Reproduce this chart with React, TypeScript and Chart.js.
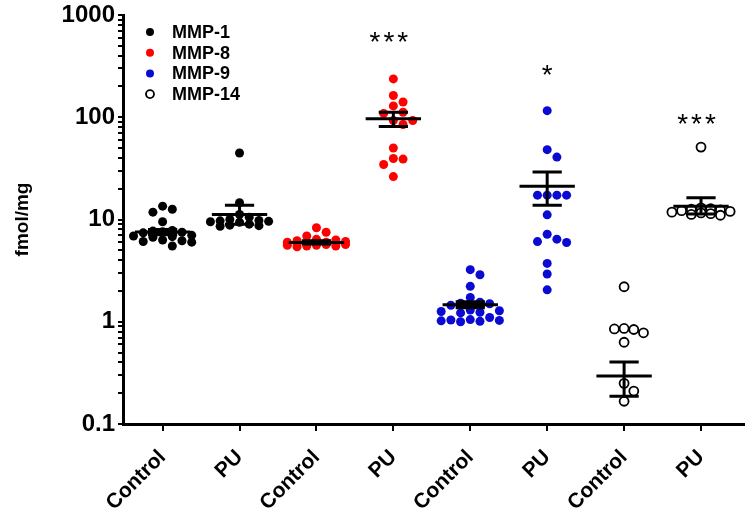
import React, { useEffect, useRef } from 'react';
import { Chart, registerables } from 'chart.js';

Chart.register(...registerables);

// ---------- data ----------
const categories = ['Control', 'PU', 'Control', 'PU', 'Control', 'PU', 'Control', 'PU'];
const seriesNames = ['MMP-1', 'MMP-8', 'MMP-9', 'MMP-14'];

const mmp1Control = [13.5, 12.6, 11.8, 9.5, 7.8, 7.7, 7.6, 7.5, 7.4, 7.0, 6.9, 6.8, 6.7, 6.3, 6.2, 6.1, 6.0, 5.5];
const mmp1PU = [44.7, 14.6, 11.2, 10.5, 10.0, 9.8, 9.7, 9.6, 9.5, 9.4, 9.0, 8.8, 8.7, 8.6];
const mmp8Control = [8.3, 7.5, 6.9, 6.4, 6.3, 6.2, 6.1, 6.0, 6.0, 5.9, 5.9, 5.8, 5.8, 5.7, 5.7, 5.6, 5.6, 5.5, 5.5, 5.4];
const mmp8PU = [237, 163, 141, 129, 112, 109, 93, 93, 85, 50, 39.5, 39, 34.5, 26.3];
const mmp9Control = [3.23, 2.88, 2.22, 1.73, 1.55, 1.52, 1.5, 1.45, 1.3, 1.28, 1.26, 1.24, 1.22, 1.1, 1.05, 1.04, 1.03, 1.02, 1.01, 1.0];
const mmp9PU = [116, 48.2, 40.8, 17.3, 17.3, 17.3, 17.3, 11.1, 7.18, 6.42, 6.08, 5.95, 3.72, 2.93, 2.05];
const mmp14Control = [2.2, 0.86, 0.84, 0.85, 0.78, 0.63, 0.25, 0.21, 0.167];
const mmp14PU = [51.1, 13.0, 12.8, 12.6, 12.4, 12.2, 12.0, 11.8, 11.6, 11.4, 11.2, 11.0];

const groupMeans = [7.55, 11.2, 5.95, 96.6, 1.47, 21.2, 0.295, 13.5];
const groupSemUpper = [8.0, 13.8, 6.2, 112, 1.57, 29.2, 0.404, 16.3];
const groupSemLower = [7.1, 9.0, 5.75, 81.3, 1.37, 13.8, 0.187, 11.3];

const significance = ['', '', '', '***', '', '*', '', '***'];
const significanceAt = [0, 0, 0, 610, 0, 290, 0, 96];

const yTickLabels = ['0.1', '1', '10', '100', '1000'];

const seriesColors = ['#000000', '#ff0000', '#0a0ad2', '#000000'];
const seriesFill = ['#000000', '#ff0000', '#0a0ad2', '#ffffff'];

// ---------- helpers ----------
const FONT = '"Liberation Sans", Arial, sans-serif';
const PX_PER_X = 77.7;
const PX_PER_DECADE = 102.75;

function swarm(values: number[], center: number) {
  const step = 9.8 / PX_PER_X;
  const minDist = 9.4;
  const ks = [0, 1, -1, 2, -2, 3, -3];
  const placed: { x: number; y: number }[] = [];
  const out: { x: number; y: number }[] = [];
  values.forEach((v) => {
    const ly = Math.log10(v);
    let best = 0;
    let bestD = -1;
    for (const k of ks) {
      const off = k * step;
      let dMin = Infinity;
      placed.forEach((p) => {
        const dx = (p.x - off) * PX_PER_X;
        const dy = (p.y - ly) * PX_PER_DECADE;
        dMin = Math.min(dMin, Math.sqrt(dx * dx + dy * dy));
      });
      if (dMin >= minDist) {
        best = off;
        bestD = Infinity;
        break;
      }
      if (dMin > bestD) {
        bestD = dMin;
        best = off;
      }
    }
    placed.push({ x: best, y: ly });
    out.push({ x: center + best, y: v });
  });
  return out;
}

const meanSemPlugin = {
  id: 'meanSem',
  afterDatasetsDraw(chart: any) {
    const { ctx, scales } = chart;
    const xs = scales.x;
    const ys = scales.y;
    ctx.save();
    ctx.strokeStyle = '#000';
    ctx.lineWidth = 3;
    const unit = xs.getPixelForValue(1) - xs.getPixelForValue(0);
    groupMeans.forEach((m, i) => {
      const xm = xs.getPixelForValue(i);
      const ym = ys.getPixelForValue(m);
      const yu = ys.getPixelForValue(groupSemUpper[i]);
      const yl = ys.getPixelForValue(groupSemLower[i]);
      const halfMean = 0.36 * unit;
      const halfSem = 0.19 * unit;
      ctx.beginPath();
      ctx.moveTo(xm - halfMean, ym);
      ctx.lineTo(xm + halfMean, ym);
      ctx.moveTo(xm - halfSem, yu);
      ctx.lineTo(xm + halfSem, yu);
      ctx.moveTo(xm - halfSem, yl);
      ctx.lineTo(xm + halfSem, yl);
      ctx.moveTo(xm, yu);
      ctx.lineTo(xm, yl);
      ctx.stroke();
    });
    ctx.restore();
  },
};

const annotatePlugin = {
  id: 'annotate',
  afterDraw(chart: any) {
    const { ctx, scales, chartArea } = chart;
    const xs = scales.x;
    const ys = scales.y;
    ctx.save();
    // significance stars
    ctx.fillStyle = '#000';
    ctx.font = `28px ${FONT}`;
    (ctx as any).letterSpacing = '3px';
    ctx.textAlign = 'center';
    ctx.textBaseline = 'alphabetic';
    significance.forEach((s, i) => {
      if (!s) return;
      const m = ctx.measureText('*');
      const shift = (m.actualBoundingBoxAscent - m.actualBoundingBoxDescent) / 2;
      const dx = s.length > 1 ? -3 : 1.5;
      ctx.fillText(s, xs.getPixelForValue(i) + dx, ys.getPixelForValue(significanceAt[i]) + shift);
    });
    (ctx as any).letterSpacing = '0px';
    // legend
    ctx.font = `bold 18px ${FONT}`;
    ctx.textAlign = 'left';
    ctx.textBaseline = 'middle';
    chart.data.datasets.forEach((ds: any, k: number) => {
      const y = chartArea.top + 17 + k * 20.7;
      const x = chartArea.left + 27;
      ctx.beginPath();
      ctx.arc(x, y, 4, 0, Math.PI * 2);
      ctx.fillStyle = ds.backgroundColor;
      ctx.fill();
      if (ds.borderWidth > 0) {
        ctx.lineWidth = ds.borderWidth;
        ctx.strokeStyle = ds.borderColor;
        ctx.stroke();
      }
      ctx.fillStyle = '#000';
      ctx.fillText(ds.label, chartArea.left + 49, y + 1);
    });
    ctx.restore();
  },
};

export default function App() {
  const ref = useRef<HTMLCanvasElement>(null);
  useEffect(() => {
    document.body.style.margin = '0';
    const pairs = [
      [mmp1Control, mmp1PU],
      [mmp8Control, mmp8PU],
      [mmp9Control, mmp9PU],
      [mmp14Control, mmp14PU],
    ];
    const datasets = pairs.map((p, k) => ({
      label: seriesNames[k],
      data: [...swarm(p[0], 2 * k), ...swarm(p[1], 2 * k + 1)],
      backgroundColor: seriesFill[k],
      borderColor: seriesColors[k],
      borderWidth: k === 3 ? 1.8 : 0,
      pointRadius: 4.5,
      pointHoverRadius: 4.5,
    }));
    const yTicks: number[] = [];
    for (let e = -1; e <= 2; e++) {
      for (let m = 1; m <= 9; m++) yTicks.push(m * Math.pow(10, e));
    }
    yTicks.push(1000);

    const chart = new Chart(ref.current as HTMLCanvasElement, {
      type: 'scatter',
      data: { datasets },
      plugins: [meanSemPlugin, annotatePlugin],
      options: {
        responsive: false,
        animation: false,
        layout: { padding: { top: 1, right: 0, left: 0, bottom: 0 } },
        plugins: { legend: { display: false }, tooltip: { enabled: false } },
        scales: {
          x: {
            type: 'linear',
            min: -0.515,
            max: 7.555,
            afterBuildTicks: (s: any) => {
              s.ticks = categories.map((_, i) => ({ value: i }));
            },
            afterFit: (s: any) => {
              s.height = 90;
            },
            ticks: {
              autoSkip: false,
              minRotation: 45,
              maxRotation: 45,
              padding: 14,
              color: '#000',
              font: { family: FONT, size: 21, weight: 'bold' },
              callback: (_v: any, i: number) => categories[i],
            },
            grid: { display: true, drawOnChartArea: false, drawTicks: true, tickLength: 7, color: '#000', lineWidth: 2 },
            border: { display: true, color: '#000', width: 3 },
          },
          y: {
            type: 'logarithmic',
            min: 0.1,
            max: 1000,
            afterBuildTicks: (s: any) => {
              s.ticks = yTicks.map((v) => ({ value: v }));
            },
            afterFit: (s: any) => {
              s.width = 123;
            },
            title: {
              display: true,
              text: 'fmol/mg',
              color: '#000',
              font: { family: FONT, size: 19, weight: 'bold' },
              padding: { top: 11, bottom: 0 },
            },
            ticks: {
              autoSkip: false,
              padding: 3,
              color: '#000',
              font: { family: FONT, size: 24, weight: 'bold', lineHeight: 1.0 },
              callback: (v: any) => {
                const lg = Math.log10(Number(v));
                if (Math.abs(lg - Math.round(lg)) < 1e-6) return yTickLabels[Math.round(lg) + 1];
                return '';
              },
            },
            grid: { display: true, drawOnChartArea: false, drawTicks: true, tickLength: 5, color: '#000', lineWidth: 2 },
            border: { display: true, color: '#000', width: 3 },
          },
        },
      } as any,
    });
    return () => chart.destroy();
  }, []);
  return <canvas ref={ref} width={750} height={514} style={{ display: 'block' }} />;
}
